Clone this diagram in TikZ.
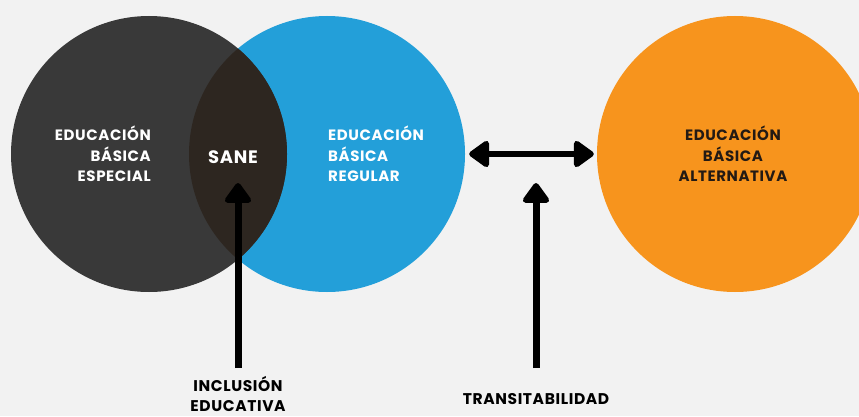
\documentclass[tikz,border=0pt]{standalone}
\usepackage{fontspec}
\setmainfont{Poppins}[LetterSpace=4]
\usetikzlibrary{arrows.meta}

\definecolor{fondo}{HTML}{F2F2F2}
\definecolor{gris}{HTML}{393939}
\definecolor{cruce}{HTML}{2D2620}
\definecolor{azul}{HTML}{239FD9}
\definecolor{naranja}{HTML}{F7941D}
\definecolor{tinta}{HTML}{231A14}

\tikzset{
  circulo/.style={circle, minimum size=276pt, inner sep=0pt},
  texto/.style={font=\fontsize{15}{20.5}\selectfont\bfseries, inner sep=0pt},
  pie/.style={font=\fontsize{15.5}{19.5}\selectfont\bfseries, inner sep=0pt},
  punta/.tip={Triangle[width=30pt,length=22pt,round]},
  flecha/.style={line width=7pt, -punta},
}

\begin{document}
\begin{tikzpicture}[x=1pt, y=1pt]
    \clip (0,0) rectangle (859,416);
    \fill[fondo] (0,0) rectangle (859,416);

    \node[circulo, fill=azul] (regular) at (327,262) {};
    \node[circulo, fill=gris] (especial) at (149,262) {};
    \begin{scope}
      \clip (149,262) circle (138);
      \fill[cruce] (327,262) circle (138);
    \end{scope}
    \node[circulo, fill=naranja] (alternativa) at (735,262) {};

    \node[texto, white, align=right, anchor=east] (tespecial) at (151,262) {EDUCACIÓN\\BÁSICA\\ESPECIAL};
    \node[texto, white, align=left, anchor=west] (tregular) at (328,262) {EDUCACIÓN\\BÁSICA\\REGULAR};
    \node[texto, tinta, align=center] (talternativa) at (733,262) {EDUCACIÓN\\BÁSICA\\ALTERNATIVA};
    \node[texto, white, font=\fontsize{18}{20}\selectfont\bfseries] (sane) at (233,259) {SANE};

    \node[pie, black, align=center] (inclusion) at (238,22) {INCLUSIÓN\\EDUCATIVA};
    \node[pie, black] (transita) at (536,17) {TRANSITABILIDAD};

    \coordinate (psane) at (238,233);
    \coordinate (ptransita) at (536,233);
    \coordinate (binclusion) at (238,48);
    \coordinate (btransita) at (536,48);

    \draw[flecha, line width=6.5pt, punta-punta]
      ([xshift=4pt]regular.east) -- ([xshift=-3pt]alternativa.west);
    \draw[flecha] (binclusion) -- (psane);
    \draw[flecha] (btransita) -- (ptransita);
\end{tikzpicture}
\end{document}
